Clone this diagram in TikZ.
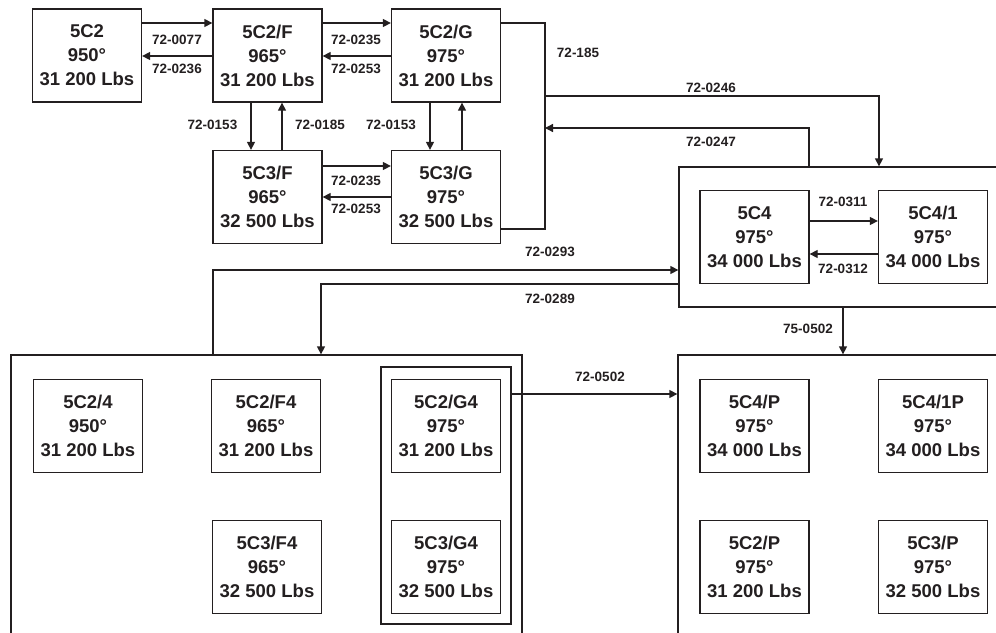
\documentclass[tikz,border=0pt]{standalone}
\usepackage{fontspec}
\setmainfont{Liberation Sans}
\usetikzlibrary{arrows.meta}
\definecolor{ink}{RGB}{35,31,32}
\tikzset{
  box/.style={draw=ink, line width=1.3pt, minimum width=109pt, minimum height=93pt, inner sep=0pt, align=center, text=ink, font=\fontsize{18.5}{24}\selectfont\bfseries},
  grp/.style={draw=ink, line width=1.3pt, inner sep=0pt},
  lab/.style={inner sep=0pt, text=ink, font=\fontsize{13.5}{16}\selectfont\bfseries},
  wire/.style={draw=ink, line width=1.3pt},
  arr/.style={wire, -{Triangle[length=8pt,width=8pt]}}
}
\begin{document}
\begin{tikzpicture}[x=1pt,y=-1pt]
\clip (0,0) rectangle (996,632);
% group boxes
\node[grp, minimum width=331pt, minimum height=140pt] (grp4) at (844.5,237) {};
\node[grp, minimum width=511pt, minimum height=305pt] (grpL) at (266.5,507.5) {};
\node[grp, minimum width=130pt, minimum height=257pt] (grpG) at (446,495.5) {};
\node[grp, minimum width=332pt, minimum height=305pt] (grpR) at (844,507.5) {};
% boxes
\node[box] (c2)   at (87,55.5)    {5C2\\950°\\31 200 Lbs};
\node[box] (c2f)  at (267.5,55.5) {5C2/F\\965°\\31 200 Lbs};
\node[box] (c2g)  at (446,55.5)   {5C2/G\\975°\\31 200 Lbs};
\node[box] (c3f)  at (267.5,197)  {5C3/F\\965°\\32 500 Lbs};
\node[box] (c3g)  at (446,197)    {5C3/G\\975°\\32 500 Lbs};
\node[box] (c4)   at (754.5,237)  {5C4\\975°\\34 000 Lbs};
\node[box] (c41)  at (933,237)    {5C4/1\\975°\\34 000 Lbs};
\node[box] (c24)  at (88,425.7)   {5C2/4\\950°\\31 200 Lbs};
\node[box] (c2f4) at (266,425.7)  {5C2/F4\\965°\\31 200 Lbs};
\node[box] (c2g4) at (446,425.7)  {5C2/G4\\975°\\31 200 Lbs};
\node[box] (c3f4) at (267,567)    {5C3/F4\\965°\\32 500 Lbs};
\node[box] (c3g4) at (446,567)    {5C3/G4\\975°\\32 500 Lbs};
\node[box] (c4p)  at (754.5,425.7){5C4/P\\975°\\34 000 Lbs};
\node[box] (c41p) at (933,425.7)  {5C4/1P\\975°\\34 000 Lbs};
\node[box] (c2p)  at (754.5,567)  {5C2/P\\975°\\31 200 Lbs};
\node[box] (c3p)  at (933,567)    {5C3/P\\975°\\32 500 Lbs};
% top row connectors
\draw[arr] (c2.east |- 0,23) -- (c2f.west |- 0,23);
\draw[arr] (c2f.west |- 0,56) -- (c2.east |- 0,56);
\node[lab] (l1) at (177,40) {72-0077};
\node[lab] (l2) at (177,69) {72-0236};
\draw[arr] (c2f.east |- 0,23) -- (c2g.west |- 0,23);
\draw[arr] (c2g.west |- 0,56) -- (c2f.east |- 0,56);
\node[lab] (l3) at (356,40) {72-0235};
\node[lab] (l4) at (356,69) {72-0253};
% verticals
\draw[arr] (c2f.south -| 251,0) -- (c3f.north -| 251,0);
\draw[arr] (c3f.north -| 282,0) -- (c2f.south -| 282,0);
\draw[arr] (c2g.south -| 430,0) -- (c3g.north -| 430,0);
\draw[arr] (c3g.north -| 462,0) -- (c2g.south -| 462,0);
\node[lab] (l5) at (212.5,125) {72-0153};
\node[lab] (l6) at (320,125) {72-0185};
\node[lab] (l7) at (391,125) {72-0153};
% second row
\draw[arr] (c3f.east |- 0,166) -- (c3g.west |- 0,166);
\draw[arr] (c3g.west |- 0,197) -- (c3f.east |- 0,197);
\node[lab] (l8) at (356,181) {72-0235};
\node[lab] (l9) at (356,209) {72-0253};
% bracket
\draw[wire] (c2g.east |- 0,23) -- (545,23) -- (545,229) -- (c3g.east |- 0,229);
\node[lab] (l10) at (578,53) {72-185};
\coordinate (bk1) at (545,96);
\coordinate (bk2) at (545,128);
\draw[arr] (bk1) -- (879,96) -- (grp4.north -| 879,0);
\node[lab] (l11) at (711,88) {72-0246};
\draw[arr] (grp4.north -| 809,0) -- (809,128) -- (bk2);
\node[lab] (l12) at (711,142) {72-0247};
% 5C4 group
\draw[arr] (c4.east |- 0,221) -- (c41.west |- 0,221);
\draw[arr] (c41.west |- 0,254) -- (c4.east |- 0,254);
\node[lab] (l13) at (843,202) {72-0311};
\node[lab] (l14) at (843,269) {72-0312};
% links to lower groups
\draw[arr] (grpL.north -| 213,0) -- (213,270) -- (grp4.west |- 0,270);
\node[lab] (l15) at (550,252) {72-0293};
\draw[arr] (grp4.west |- 0,284) -- (321,284) -- (grpL.north -| 321,0);
\node[lab] (l16) at (550,299) {72-0289};
\draw[arr] (grp4.south -| 843,0) -- (grpR.north -| 843,0);
\node[lab] (l17) at (808,329) {75-0502};
\draw[arr] (grpG.east |- 0,394) -- (grpR.west |- 0,394);
\node[lab] (l18) at (600,377) {72-0502};
\end{tikzpicture}
\end{document}
